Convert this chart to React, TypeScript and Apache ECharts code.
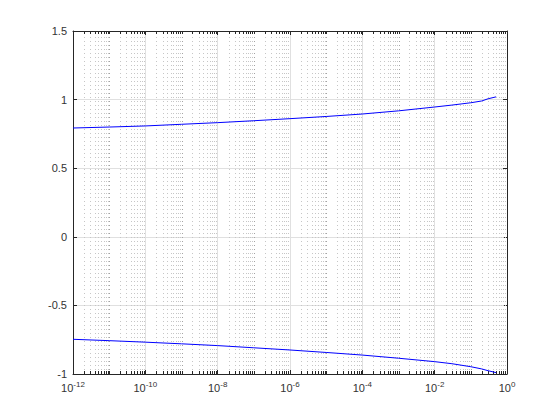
import React, { useEffect, useRef } from "react";
import * as echarts from "echarts";

const xValues = [1e-12, 1e-11, 1e-10, 1e-9, 1e-8, 1e-7, 1e-6, 1e-5, 1e-4, 1e-3, 1e-2, 3e-2, 1e-1, 2e-1, 3e-1, 5e-1];
const upperValues = [0.793, 0.8, 0.808, 0.82, 0.832, 0.846, 0.861, 0.877, 0.895, 0.918, 0.946, 0.96, 0.977, 0.99, 1.006, 1.02];
const lowerValues = [-0.747, -0.757, -0.768, -0.78, -0.793, -0.809, -0.825, -0.843, -0.862, -0.885, -0.91, -0.925, -0.947, -0.963, -0.976, -0.99];
const yTicks = [-1, -0.5, 0, 0.5, 1, 1.5];
const xMinExp = -12;
const xMaxExp = 0;

// minor grid positions k*10^n (log axis minor grid)
const minorGrid: number[][] = [];
for (let n = xMinExp; n < xMaxExp; n++) {
  for (let k = 1; k <= 9; k++) {
    if (k === 1 && n % 2 === 0) continue;
    minorGrid.push([k * Math.pow(10, n), k === 1 ? 1 : 0]);
  }
}

const FONT = "Liberation Sans";
const TXT = "#262626";
const LBL = "#333333";

export default function App() {
  const ref = useRef<HTMLDivElement>(null);
  useEffect(() => {
    if (!ref.current) return;
    const chart = echarts.init(ref.current, null, { renderer: "svg" });
    const xAxisBase = {
      type: "log" as const,
      logBase: 10,
      min: Math.pow(10, xMinExp),
      max: Math.pow(10, xMaxExp),
      interval: 2,
    };
    chart.setOption({
      animation: false,
      backgroundColor: "#ffffff",
      grid: { left: 73, right: 53, top: 31, bottom: 46, containLabel: false },
      xAxis: [
        {
          ...xAxisBase,
          position: "bottom",
          axisLine: { show: true, onZero: false, lineStyle: { color: TXT, width: 1 } },
          axisTick: { show: true, inside: true, length: 4, lineStyle: { color: TXT } },
          minorTick: { show: false },
          splitLine: { show: true, lineStyle: { color: "#e0e0e0", width: 1 } },
          axisLabel: {
            margin: 6,
            formatter: (v: number) => {
              const e = Math.round(Math.log10(v));
              return "{b|10}{s|" + e + "}";
            },
            rich: {
              b: { fontFamily: FONT, fontSize: 11, color: LBL, lineHeight: 15 },
              s: { fontFamily: FONT, fontSize: 8, color: LBL, padding: [0, 0, 8, 0] },
            },
          },
        },
        {
          ...xAxisBase,
          position: "top",
          axisLine: { show: true, onZero: false, lineStyle: { color: TXT, width: 1 } },
          axisTick: { show: true, inside: true, length: 4, lineStyle: { color: TXT } },
          splitLine: { show: false },
          axisLabel: { show: false },
        },
      ],
      yAxis: [
        {
          type: "value",
          min: -1,
          max: 1.5,
          interval: 0.5,
          position: "left",
          axisLine: { show: true, onZero: false, lineStyle: { color: TXT, width: 1 } },
          axisTick: { show: true, inside: true, length: 4, lineStyle: { color: TXT } },
          splitLine: { show: true, lineStyle: { color: "#e0e0e0", width: 1 } },
          axisLabel: {
            margin: 6,
            fontFamily: FONT,
            fontSize: 11,
            color: LBL,
            formatter: (v: number) => (yTicks.indexOf(v) >= 0 ? String(v) : ""),
          },
        },
        {
          type: "value",
          min: -1,
          max: 1.5,
          interval: 0.5,
          position: "right",
          axisLine: { show: true, onZero: false, lineStyle: { color: TXT, width: 1 } },
          axisTick: { show: true, inside: true, length: 4, lineStyle: { color: TXT } },
          splitLine: { show: false },
          axisLabel: { show: false },
        },
      ],
      series: [
        {
          type: "custom",
          xAxisIndex: 0,
          yAxisIndex: 0,
          silent: true,
          z: 1,
          clip: false,
          data: minorGrid,
          encode: { x: 0 },
          renderItem: (params: any, api: any) => {
            const xv = api.value(0);
            const odd = api.value(1);
            const px = Math.round(api.coord([xv, 0])[0]) + 0.5;
            const cs = params.coordSys;
            const top = cs.y;
            const bottom = cs.y + cs.height;
            return {
              type: "group",
              children: [
                {
                  type: "line",
                  shape: { x1: px, y1: top + 2, x2: px, y2: bottom },
                  style: { stroke: odd ? "#a4a4a4" : "#c6c6c6", lineWidth: 1, lineDash: [1, 3] },
                },
                {
                  type: "line",
                  shape: { x1: px, y1: bottom, x2: px, y2: bottom - 3 },
                  style: { stroke: TXT, lineWidth: 1 },
                },
                {
                  type: "line",
                  shape: { x1: px, y1: top, x2: px, y2: top + 3 },
                  style: { stroke: TXT, lineWidth: 1 },
                },
              ],
            };
          },
        },
        {
          type: "line",
          name: "upper",
          z: 3,
          showSymbol: false,
          symbol: "none",
          data: xValues.map((x, i) => [x, upperValues[i]]),
          lineStyle: { color: "#0000ff", width: 1 },
        },
        {
          type: "line",
          name: "lower",
          z: 3,
          showSymbol: false,
          symbol: "none",
          data: xValues.map((x, i) => [x, lowerValues[i]]),
          lineStyle: { color: "#0000ff", width: 1 },
        },
      ],
    });
    return () => chart.dispose();
  }, []);
  return (
    <div
      ref={ref}
      style={{ position: "fixed", left: 0, top: 0, width: 560, height: 420, background: "#fff" }}
    />
  );
}
